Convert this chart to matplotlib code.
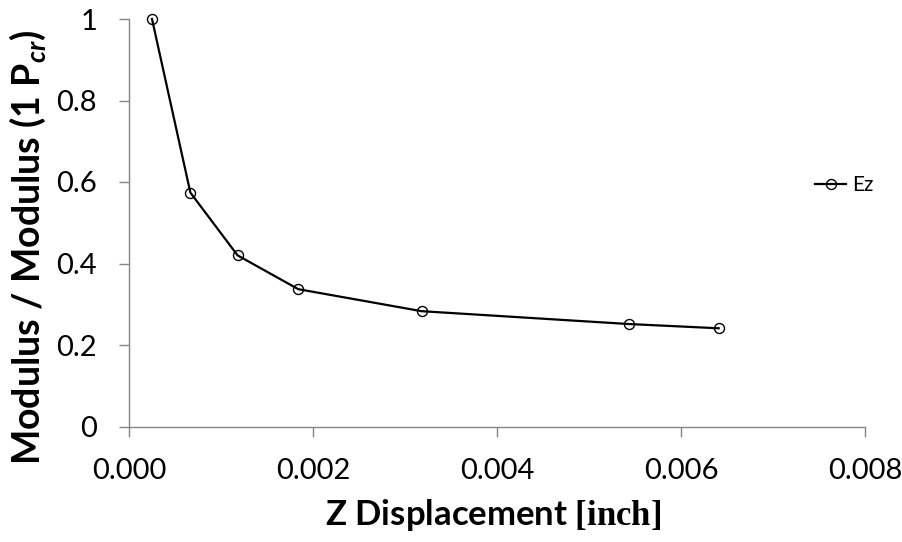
import matplotlib
matplotlib.use("Agg")
import matplotlib.pyplot as plt

# Normalised modulus versus Z displacement
z_disp = [0.00025, 0.000667, 0.00118, 0.00184, 0.00318, 0.00543, 0.00641]
modulus_ratio = [1.0, 0.574, 0.420, 0.337, 0.283, 0.2515, 0.241]
series_name = "Ez"

x_ticks = [0.000, 0.002, 0.004, 0.006, 0.008]
x_tick_labels = ["0.000", "0.002", "0.004", "0.006", "0.008"]
y_ticks = [0, 0.2, 0.4, 0.6, 0.8, 1.0]
y_tick_labels = ["0", "0.2", "0.4", "0.6", "0.8", "1"]

plt.rcParams["font.family"] = ["Lato", "DejaVu Sans"]
plt.rcParams["mathtext.fontset"] = "custom"
plt.rcParams["mathtext.rm"] = "Liberation Serif:bold"
plt.rcParams["mathtext.bf"] = "Liberation Serif:bold"
plt.rcParams["mathtext.it"] = "Lato:bold:italic"

W, H = 902, 542
fig = plt.figure(figsize=(W / 100, H / 100), dpi=100)
ax = fig.add_axes([129 / W, 1 - 426.5 / H, (865 - 129) / W, (426.5 - 19) / H])

line, = ax.plot(z_disp, modulus_ratio, color="black", lw=1.6, marker="o",
                markersize=7.2, markerfacecolor="none", markeredgecolor="black",
                markeredgewidth=1.0, label=series_name, clip_on=False)

ax.set_xlim(0, 0.008)
ax.set_ylim(0, 1)
ax.set_xticks(x_ticks)
ax.set_xticklabels(x_tick_labels)
ax.set_yticks(y_ticks)
ax.set_yticklabels(y_tick_labels)

grey = "#868686"
for side in ("top", "right"):
    ax.spines[side].set_visible(False)
for side in ("left", "bottom"):
    ax.spines[side].set_color(grey)
    ax.spines[side].set_linewidth(1.0)
ax.tick_params(axis="both", direction="out", length=7, width=1.0, color=grey,
               labelsize=21, labelcolor="black", pad=16)

# Axis titles
fig.text(493 / W, 1 - 515 / H, r"Z Displacement $\mathbf{[inch]}$",
         fontsize=25, fontweight="bold", ha="center", va="center")
fig.text(28 / W, 1 - 247 / H, r"Modulus / Modulus (1 P$_{cr}$)",
         fontsize=27, fontweight="bold", rotation=90, ha="center", va="center")

fig.legend(handles=[line], loc="center left", bbox_to_anchor=(815 / W, 1 - 185 / H),
           frameon=False, fontsize=15, handlelength=1.5, handletextpad=0.3,
           borderpad=0, borderaxespad=0)

fig.savefig("out.png", dpi=100)
